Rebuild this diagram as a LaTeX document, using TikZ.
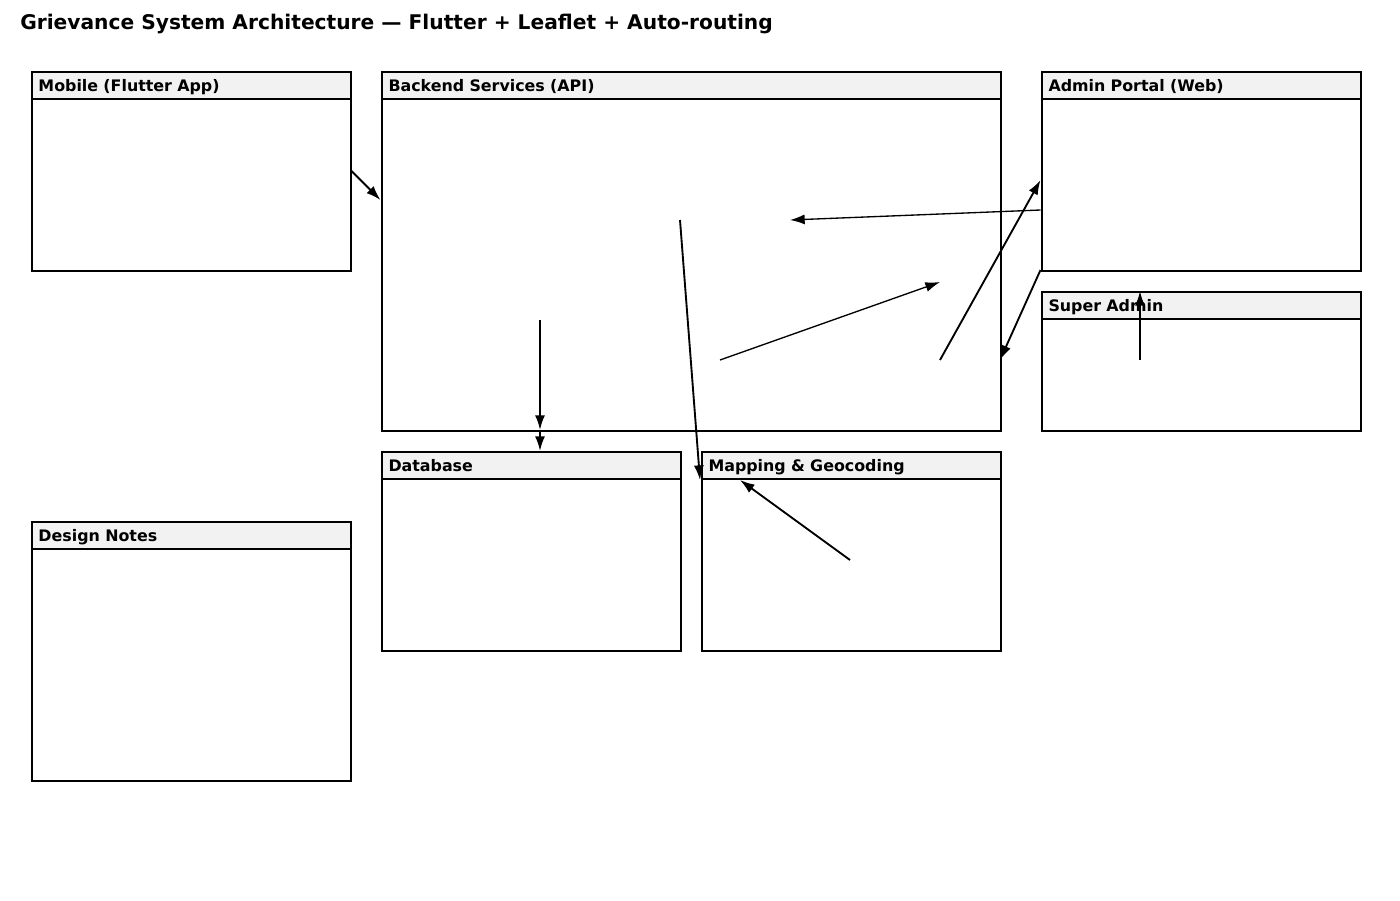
\documentclass[tikz,border=0pt]{standalone}
\usepackage{fontspec}
\setmainfont{DejaVu Sans}
\usetikzlibrary{arrows.meta}
\tikzset{
  panel/.style={draw, line width=1.5pt, inner sep=0pt, anchor=north west},
  panelhead/.style={draw, line width=1.5pt, fill=black!5, inner xsep=5.25pt, inner ysep=0pt, minimum height=20.25pt, text height=10pt, text depth=1pt, anchor=north west, align=left, font=\bfseries\fontsize{11.9}{14}\selectfont},
  flow/.style={-{Latex[length=11pt,width=7.5pt]}, line width=1.4pt},
  thinflow/.style={flow, line width=1pt}
}
\begin{document}
\begin{tikzpicture}[x=0.75pt,y=-0.75pt]
%   \draw[help lines] (0,0) grid[step=100] (1400,900);
	\useasboundingbox (0,0) rectangle (1400,900);
	\node[anchor=west, inner sep=0pt, font=\bfseries\fontsize{15.15}{18}\selectfont] (title) at (20,24) {Grievance System Architecture — Flutter + Leaflet + Auto-routing};
	% panels
	\node[panel, minimum width=239.25pt, minimum height=149.25pt] (mobile) at (30.5,70.5) {};
	\node[panelhead, text width=228.75pt] (mobilehead) at (mobile.north west) {Mobile (Flutter App)};
	\node[panel, minimum width=464.25pt, minimum height=269.25pt] (backend) at (380.5,70.5) {};
	\node[panelhead, text width=453.75pt] (backendhead) at (backend.north west) {Backend Services (API)};
	\node[panel, minimum width=239.25pt, minimum height=149.25pt] (admin) at (1040.5,70.5) {};
	\node[panelhead, text width=228.75pt] (adminhead) at (admin.north west) {Admin Portal (Web)};
	\node[panel, minimum width=239.25pt, minimum height=104.25pt] (superadmin) at (1040.5,290.5) {};
	\node[panelhead, text width=228.75pt] (superadminhead) at (superadmin.north west) {Super Admin};
	\node[panel, minimum width=224.25pt, minimum height=149.25pt] (database) at (380.5,450.5) {};
	\node[panelhead, text width=213.75pt] (databasehead) at (database.north west) {Database};
	\node[panel, minimum width=224.25pt, minimum height=149.25pt] (mapping) at (700.5,450.5) {};
	\node[panelhead, text width=213.75pt] (mappinghead) at (mapping.north west) {Mapping \& Geocoding};
	\node[panel, minimum width=239.25pt, minimum height=194.25pt] (notes) at (30.5,520.5) {};
	\node[panelhead, text width=228.75pt] (noteshead) at (notes.north west) {Design Notes};
	% connector ends
	\coordinate (apiin) at (380.5,200);
	\coordinate (apiadmin) at (790,220);
	\coordinate (apiroute) at (720,360);
	\coordinate (apiassign) at (940,282);
	\coordinate (apinotify) at (940,360);
	\coordinate (adminin) at (1040.5,180);
	\coordinate (adminout) at (1040.5,270);
	\coordinate (apiback) at (1000,360);
	\coordinate (superout) at (1140,360);
	\coordinate (superin) at (1140,291);
	\coordinate (apistore) at (540,320);
	\coordinate (apibottom) at (540,430);
	\coordinate (dbin) at (540,451);
	\coordinate (apigeo) at (680,220);
	\coordinate (mapin) at (700,480);
	\coordinate (mapsrc) at (850,560);
	\coordinate (maphead) at (740,480);
	% connectors
	\draw[flow] (mobile.east) -- (apiin);
	\draw[thinflow] (admin.west |- 0,210) -- (apiadmin);
	\draw[thinflow] (apiroute) -- (apiassign);
	\draw[flow] (apinotify) -- (adminin);
	\draw[flow] (adminout) -- (apiback);
	\draw[flow] (superout) -- (superin);
	\draw[flow] (apistore) -- (apibottom);
	\draw[flow] (apibottom) -- (dbin);
	\draw[flow] (apigeo) -- (mapin);
	\draw[flow] (mapsrc) -- (maphead);
\end{tikzpicture}
\end{document}
